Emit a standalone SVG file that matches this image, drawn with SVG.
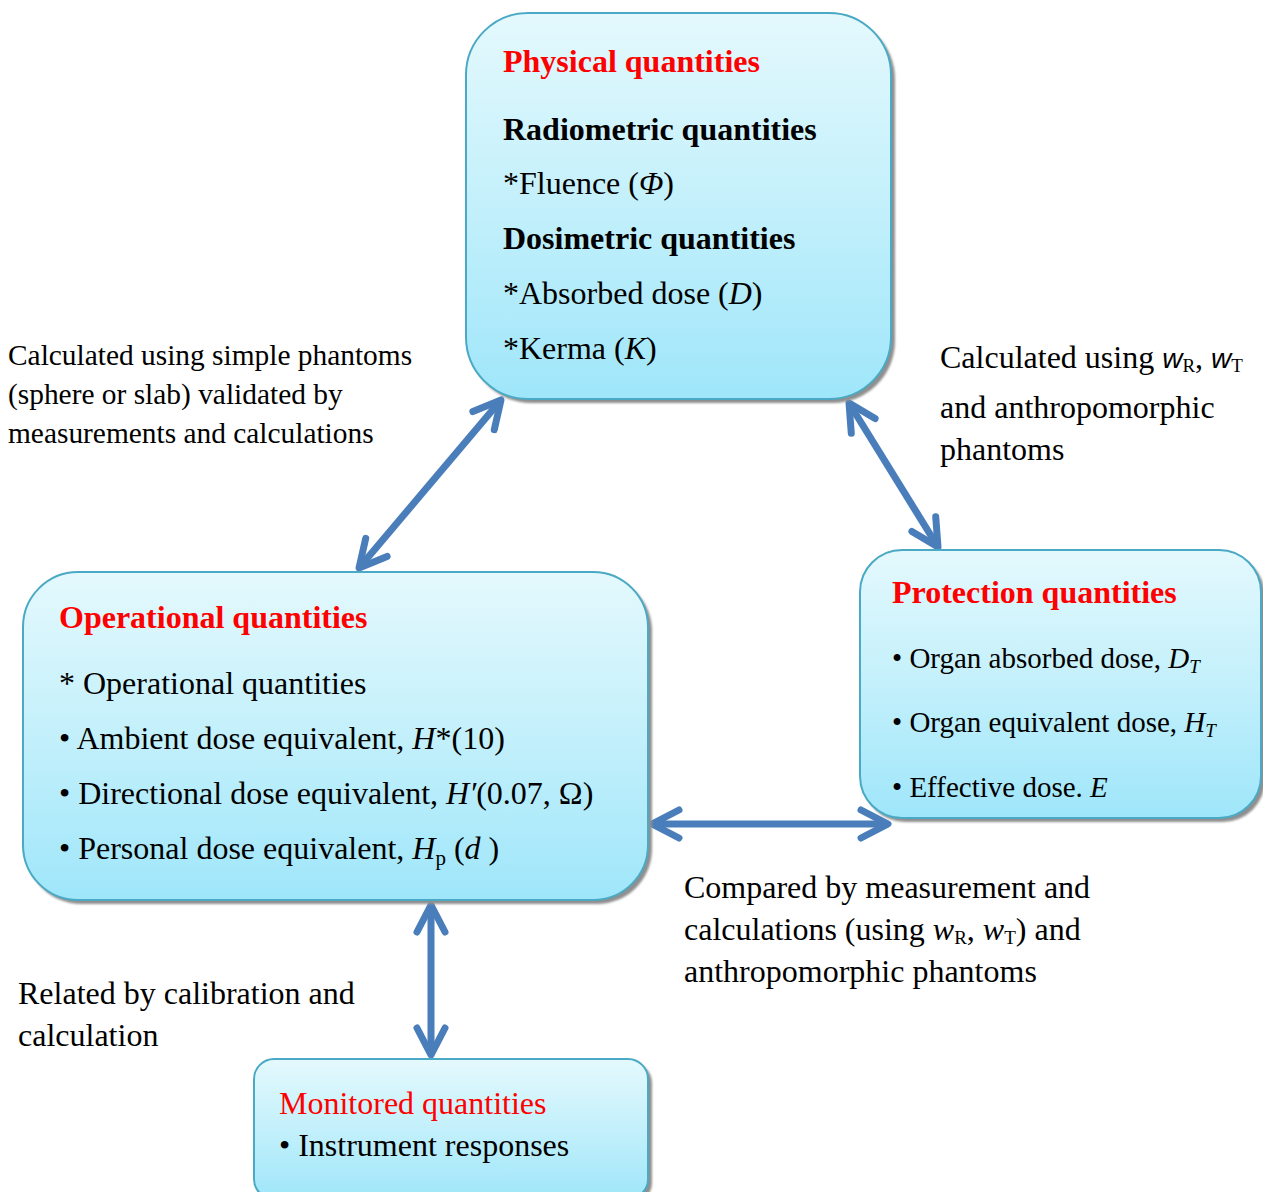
<svg xmlns="http://www.w3.org/2000/svg" width="1263" height="1192" viewBox="0 0 1263 1192">
  <style>
    text { font-family: "Liberation Serif", "Times New Roman", serif; fill: #000; }
    .t32 { font-size: 32px; }
    .t29 { font-size: 29px; }
    .lab { font-size: 29.4px; }
    .title { font-size: 32px; font-weight: bold; fill: #ff0000; }
    .head { font-size: 32px; font-weight: bold; }
    .red { fill: #ff0000; }
    .it { font-style: italic; }
    .sans { font-family: "Liberation Sans", Arial, sans-serif; font-style: italic; }
    .box { fill: url(#boxFill); stroke: #4aa9c4; stroke-width: 2; }
    .shadow { fill: #8f8f8f; filter: url(#soft); }
    .link { fill: none; stroke: #4a7ebb; stroke-width: 7; marker-start: url(#head); marker-end: url(#head); }
  </style>
  <defs>
    <linearGradient id="boxFill" x1="0" y1="0" x2="0" y2="1">
      <stop offset="0" stop-color="#e4f9fd"/>
      <stop offset="0.5" stop-color="#c3f0fb"/>
      <stop offset="1" stop-color="#9fe6fa"/>
    </linearGradient>
    <filter id="soft" x="-5%" y="-5%" width="110%" height="110%">
      <feGaussianBlur stdDeviation="1.2"/>
    </filter>
    <marker id="head" markerUnits="userSpaceOnUse" orient="auto-start-reverse" refX="0" refY="0" markerWidth="60" markerHeight="60" viewBox="-40 -30 60 60" overflow="visible">
      <path d="M -27,-14 L 0,0 L -27,14" fill="none" stroke="#4a7ebb" stroke-width="7" stroke-linecap="round" stroke-linejoin="round"/>
    </marker>
  </defs>

  <rect width="1263" height="1192" fill="#ffffff"/>

  <!-- connectors -->
  <g id="connectors">
    <path class="link" d="M 359,568 L 501,400"/>
    <path class="link" d="M 849,403 L 938,547"/>
    <path class="link" d="M 652,824 L 888,824"/>
    <path class="link" d="M 431,905 L 431,1055"/>
  </g>

  <!-- physical quantities -->
  <g id="physical">
    <rect class="shadow" x="469" y="17" width="426" height="386" rx="62"/>
    <rect class="box" x="466" y="13" width="425" height="386" rx="62"/>
    <text class="title" x="503" y="72">Physical quantities</text>
    <text class="head" x="503" y="140">Radiometric quantities</text>
    <text class="t32" x="503" y="194">*Fluence (<tspan class="it">Φ</tspan>)</text>
    <text class="head" x="503" y="249">Dosimetric quantities</text>
    <text class="t32" x="503" y="304">*Absorbed dose (<tspan class="it">D</tspan>)</text>
    <text class="t32" x="503" y="359">*Kerma (<tspan class="it">K</tspan>)</text>
  </g>

  <!-- protection quantities -->
  <g id="protection">
    <rect class="shadow" x="863" y="554" width="402" height="268" rx="42"/>
    <rect class="box" x="860" y="550" width="401" height="268" rx="42"/>
    <text class="title" x="892" y="603">Protection quantities</text>
    <text class="t29" x="892" y="668">• Organ absorbed dose, <tspan class="it">D</tspan><tspan class="it" font-size="19" dy="5">T</tspan></text>
    <text class="t29" x="892" y="732">• Organ equivalent dose, <tspan class="it">H</tspan><tspan class="it" font-size="19" dy="5">T</tspan></text>
    <text class="t29" x="892" y="797">• Effective dose. <tspan class="it">E</tspan></text>
  </g>

  <!-- operational quantities -->
  <g id="operational">
    <rect class="shadow" x="26" y="576" width="626" height="328" rx="55"/>
    <rect class="box" x="23" y="572" width="625" height="328" rx="55"/>
    <text class="title" x="59" y="628">Operational quantities</text>
    <text class="t32" x="59" y="694">* Operational quantities</text>
    <text class="t32" x="59" y="749">• Ambient dose equivalent, <tspan class="it">H</tspan>*(10)</text>
    <text class="t32" x="59" y="804">• Directional dose equivalent, <tspan class="it">H′</tspan>(0.07, Ω)</text>
    <text class="t32" x="59" y="859">• Personal dose equivalent, <tspan class="it">H</tspan><tspan font-size="21" dy="6">p</tspan><tspan dy="-6"> (</tspan><tspan class="it">d</tspan> )</text>
  </g>

  <!-- monitored quantities -->
  <g id="monitored">
    <rect class="shadow" x="257" y="1063" width="395" height="140" rx="20"/>
    <rect class="box" x="254" y="1059" width="394" height="140" rx="20"/>
    <text class="t32 red" x="279" y="1114">Monitored quantities</text>
    <text class="t32" x="279" y="1156">• Instrument responses</text>
  </g>

  <!-- connector labels -->
  <g id="labels">
    <text class="lab" x="8" y="365">Calculated using simple phantoms</text>
    <text class="lab" x="8" y="404">(sphere or slab) validated by</text>
    <text class="lab" x="8" y="443">measurements and calculations</text>

    <text class="t32" x="940" y="368">Calculated using <tspan class="sans" font-size="28">w</tspan><tspan font-size="19" dy="4">R</tspan><tspan dy="-4">, </tspan><tspan class="sans" font-size="28">w</tspan><tspan font-size="19" dy="4">T</tspan></text>
    <text class="t32" x="940" y="418">and anthropomorphic</text>
    <text class="t32" x="940" y="460">phantoms</text>

    <text class="t32" x="684" y="898">Compared by measurement and</text>
    <text class="t32" x="684" y="940">calculations (using <tspan class="it">w</tspan><tspan font-size="19" dy="4">R</tspan><tspan dy="-4">, </tspan><tspan class="it">w</tspan><tspan font-size="19" dy="4">T</tspan><tspan dy="-4">) and</tspan></text>
    <text class="t32" x="684" y="982">anthropomorphic phantoms</text>

    <text class="t32" x="18" y="1004">Related by calibration and</text>
    <text class="t32" x="18" y="1046">calculation</text>
  </g>
</svg>
